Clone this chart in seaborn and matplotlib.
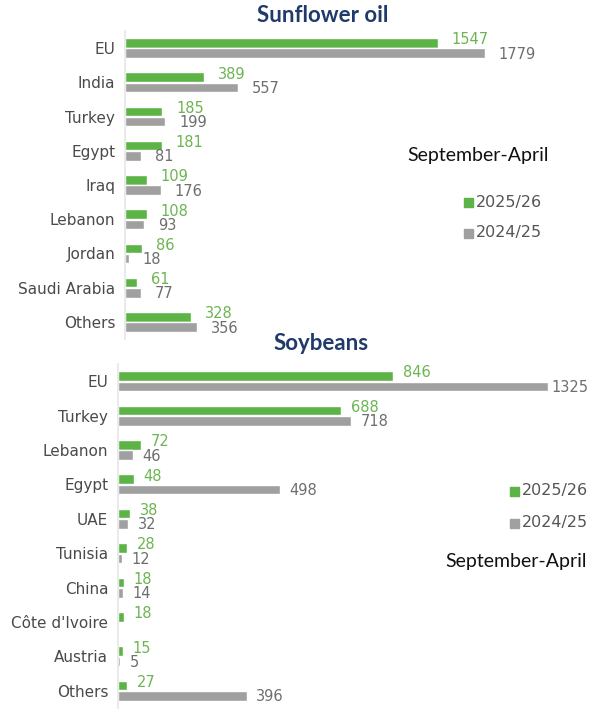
import numpy as np
import pandas as pd
import matplotlib
matplotlib.use("Agg")
import matplotlib.pyplot as plt
import seaborn as sns
from matplotlib.patches import Rectangle

sun_countries = ["EU", "India", "Turkey", "Egypt", "Iraq", "Lebanon", "Jordan", "Saudi Arabia", "Others"]
sun_2025 = [1547, 389, 185, 181, 109, 108, 86, 61, 328]
sun_2024 = [1779, 557, 199, 81, 176, 93, 18, 77, 356]

soy_countries = ["EU", "Turkey", "Lebanon", "Egypt", "UAE", "Tunisia", "China", "Côte d'Ivoire", "Austria", "Others"]
soy_2025 = [846, 688, 72, 48, 38, 28, 18, 18, 15, 27]
soy_2024 = [1325, 718, 46, 498, 32, 12, 14, np.nan, 5, 396]

seasons = ["2025/26", "2024/25"]
GREEN = "#5db446"
GRAY = "#a0a0a0"
GREEN_TXT = "#6cb552"
GRAY_TXT = "#6e6e6e"
NAVY = "#1f3a6b"

sns.set_theme(style="white")
plt.rcParams["font.family"] = ["DejaVu Sans"]

W, H = 589, 709
fig = plt.figure(figsize=(W / 100, H / 100), dpi=100)


def long_df(countries, a, b):
    return pd.DataFrame({
        "country": countries * 2,
        "value": list(a) + list(b),
        "season": [seasons[0]] * len(countries) + [seasons[1]] * len(countries),
    })


def panel(rect, countries, a, b, xmax, off_pt):
    ax = fig.add_axes(rect)
    df = long_df(countries, a, b)
    sns.barplot(data=df, y="country", x="value", hue="season", orient="h",
                palette=[GREEN, GRAY], width=0.6, gap=0.07, ax=ax, legend=False,
                order=countries, hue_order=seasons, saturation=1)
    ax.set_xlim(0, xmax)
    ax.set_ylim(len(countries) - 0.5, -0.5)
    ax.set_xlabel("")
    ax.set_ylabel("")
    ax.set_xticks([])
    for s in ["top", "right", "bottom"]:
        ax.spines[s].set_visible(False)
    ax.spines["left"].set_color("#e6e6e6")
    ax.spines["left"].set_linewidth(1.2)
    ax.tick_params(axis="y", length=0, pad=7, labelsize=11, labelcolor="#4a4a4a")
    ax.set_facecolor("none")
    for i, (va, vb) in enumerate(zip(a, b)):
        ax.annotate(f"{va:g}", (va, i - 0.24), xytext=(off_pt, 0), textcoords="offset points",
                    color=GREEN_TXT, fontsize=10.5, va="center", ha="left", annotation_clip=False)
        if not np.isnan(vb):
            o = off_pt if vb < 0.88 * xmax else 2.5
            ax.annotate(f"{vb:g}", (vb, i + 0.18), xytext=(o, 0), textcoords="offset points",
                        color=GRAY_TXT, fontsize=10.5, va="center", ha="left", annotation_clip=False)
    return ax


ax1 = panel([125 / W, 1 - 339 / H, 445 / W, 308 / H], sun_countries, sun_2025, sun_2024, 2200, 10)
ax2 = panel([118 / W, 1 - 708 / H, 471 / W, 344 / H], soy_countries, soy_2025, soy_2024, 1450, 7)

fig.text(323 / W, 1 - 15 / H, "Sunflower oil", ha="center", va="center",
         fontsize=16, fontweight="bold", color=NAVY, family=["Lato", "DejaVu Sans"])
fig.text(321 / W, 1 - 343 / H, "Soybeans", ha="center", va="center",
         fontsize=16, fontweight="bold", color=NAVY, family=["Lato", "DejaVu Sans"])

fig.text(407 / W, 1 - 155 / H, "September-April", ha="left", va="center",
         fontsize=14, color="#111111", family=["Lato", "DejaVu Sans"])
fig.text(445 / W, 1 - 562 / H, "September-April", ha="left", va="center",
         fontsize=14, color="#111111", family=["Lato", "DejaVu Sans"])


def legend(x, ys):
    for lab, col, y in zip(seasons, [GREEN, GRAY], ys):
        fig.patches.append(Rectangle((x / W, 1 - (y + 4.5) / H), 9 / W, 9 / H,
                                     transform=fig.transFigure, color=col, figure=fig))
        fig.text((x + 12) / W, 1 - y / H, lab, ha="left", va="center",
                 fontsize=11.5, color="#555555")


legend(464, [202, 233])
legend(510, [491, 523])

fig.savefig("out.png", dpi=100)
